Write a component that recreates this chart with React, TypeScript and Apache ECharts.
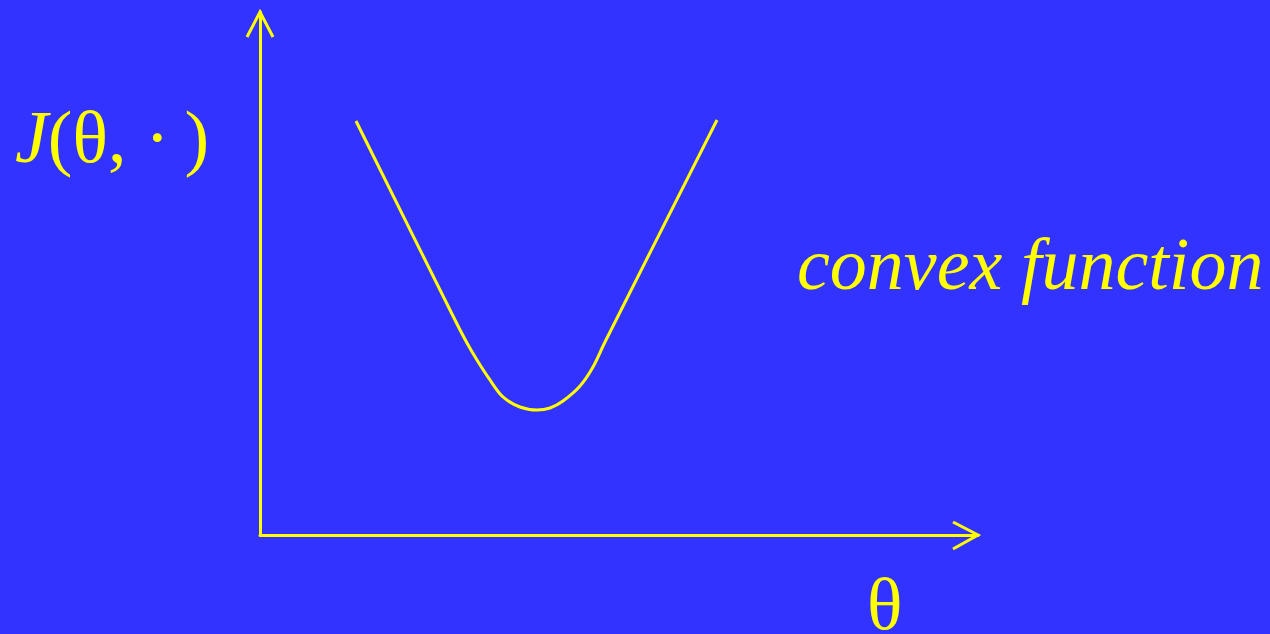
import React, { useEffect, useRef } from "react";
import * as echarts from "echarts";

const curveX = [13.37, 27.16, 28.83, 30.22, 32.03, 33.84, 36.21, 38.58, 40.39, 42.2, 44.57, 46.38, 48.05, 63.65];
const curveY = [79.16, 41.11, 36.71, 33.46, 29.64, 26.39, 24.47, 23.9, 24.28, 25.62, 28.49, 32.12, 36.9, 79.35];
const yLabel = "J(θ, ·\u2009)";
const xLabel = "θ";
const note = "convex function";

const YELLOW = "#ffff00";
const BG = "#3333ff";

export default function App() {
  const ref = useRef<HTMLDivElement>(null);
  useEffect(() => {
    if (!ref.current) return;
    const chart = echarts.init(ref.current, undefined, { renderer: "svg" });
    const data = curveX.map((x, i) => [x, curveY[i]]);
    const serif = "'Liberation Serif', 'Times New Roman', serif";
    chart.setOption({
      animation: false,
      backgroundColor: BG,
      grid: { left: 260, right: 292, top: 12, bottom: 99 },
      xAxis: {
        type: "value",
        min: 0,
        max: 100,
        axisLine: { show: true, onZero: false, lineStyle: { color: YELLOW, width: 3 } },
        axisTick: { show: false },
        axisLabel: { show: false },
        splitLine: { show: false },
      },
      yAxis: {
        type: "value",
        min: 0,
        max: 100,
        axisLine: { show: true, onZero: false, lineStyle: { color: YELLOW, width: 3 } },
        axisTick: { show: false },
        axisLabel: { show: false },
        splitLine: { show: false },
      },
      series: [
        {
          type: "line",
          data,
          smooth: 0.3,
          showSymbol: false,
          lineStyle: { color: YELLOW, width: 3 },
        },
      ],
      graphic: [
        {
          type: "polyline",
          shape: { points: [[247, 37], [260, 12], [273, 37]] },
          style: { stroke: YELLOW, lineWidth: 3, fill: "none" },
        },
        {
          type: "polyline",
          shape: { points: [[953, 522], [978, 535], [953, 549]] },
          style: { stroke: YELLOW, lineWidth: 3, fill: "none" },
        },
        {
          type: "text",
          x: 15,
          y: 137,
          style: {
            text: "{j|J}{n|" + yLabel.slice(1) + "}",
            fill: YELLOW,
            verticalAlign: "middle",
            rich: {
              j: { fontFamily: serif, fontSize: 74, fontStyle: "italic", fill: YELLOW },
              n: { fontFamily: serif, fontSize: 74, fill: YELLOW },
            },
          },
        },
        {
          type: "text",
          x: 797,
          y: 264,
          style: {
            text: note,
            fill: YELLOW,
            font: "italic 74px " + serif,
            verticalAlign: "middle",
          },
        },
        {
          type: "text",
          x: 867,
          y: 604,
          style: {
            text: xLabel,
            fill: YELLOW,
            font: "74px " + serif,
            verticalAlign: "middle",
          },
        },
      ],
    });
    return () => chart.dispose();
  }, []);
  return (
    <div
      ref={ref}
      style={{ position: "fixed", left: 0, top: 0, width: 1270, height: 634 }}
    />
  );
}
